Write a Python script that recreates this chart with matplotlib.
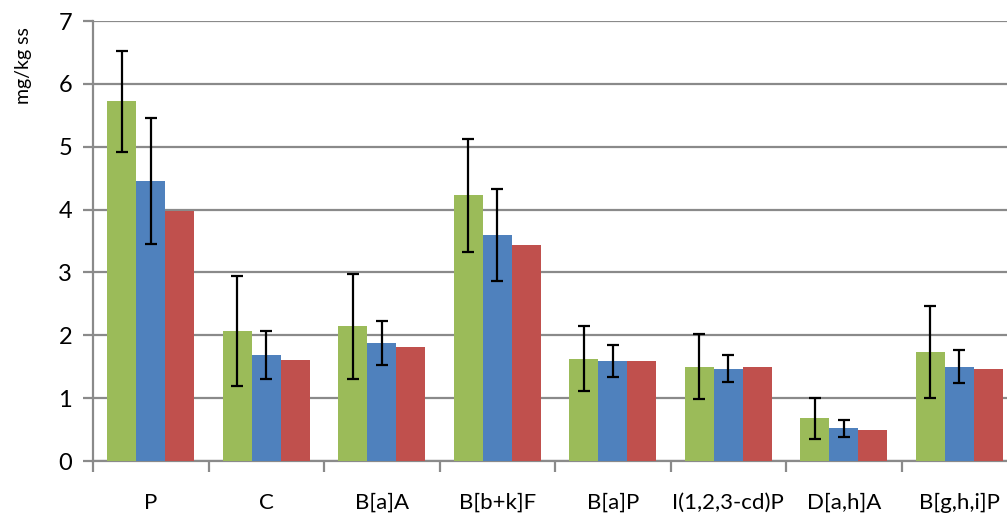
import matplotlib
matplotlib.use("Agg")
import matplotlib.pyplot as plt
import numpy as np

categories = ["P", "C", "B[a]A", "B[b+k]F", "B[a]P", "I(1,2,3-cd)P", "D[a,h]A", "B[g,h,i]P"]
green_vals = [5.72, 2.07, 2.14, 4.23, 1.63, 1.50, 0.68, 1.73]
green_err = [0.81, 0.87, 0.84, 0.90, 0.51, 0.52, 0.33, 0.73]
blue_vals = [4.45, 1.69, 1.88, 3.59, 1.59, 1.47, 0.52, 1.50]
blue_err = [1.00, 0.38, 0.35, 0.73, 0.26, 0.22, 0.14, 0.26]
red_vals = [3.98, 1.60, 1.82, 3.43, 1.59, 1.50, 0.49, 1.47]
yticks = [0, 1, 2, 3, 4, 5, 6, 7]

plt.rcParams['font.family'] = ['Lato', 'DejaVu Sans']

W, H = 1007, 515
fig = plt.figure(figsize=(W / 100, H / 100), dpi=100)
ax = fig.add_axes([93 / W, (H - 461) / H, 924 / W, 440 / H])

x = np.arange(len(categories))
bw = 0.25
grid_c = '#8a8a8a'
ekw = dict(ecolor='black', elinewidth=1.6, capsize=4.5, capthick=1.6)
ax.bar(x - bw, green_vals, bw, color='#9BBB59', yerr=green_err, error_kw=ekw, zorder=3)
ax.bar(x, blue_vals, bw, color='#4F81BD', yerr=blue_err, error_kw=ekw, zorder=3)
ax.bar(x + bw, red_vals, bw, color='#C0504D', zorder=3)

ax.set_xlim(-0.5, len(categories) - 0.5)
ax.set_ylim(0, 7)
ax.set_yticks(yticks)
ax.yaxis.grid(True, color=grid_c, linewidth=1.6, zorder=0)
ax.set_axisbelow(True)

ax.set_xticks(np.arange(len(categories) + 1) - 0.5)
ax.set_xticklabels([])
ax.set_xticks(x, minor=True)
ax.set_xticklabels(categories, minor=True, fontsize=16)
ax.tick_params(axis='x', which='minor', length=0, pad=23)
ax.tick_params(axis='x', which='major', length=8, width=1.6, color=grid_c)
ax.tick_params(axis='y', length=7, width=1.6, color=grid_c, labelsize=17, pad=8)

for s in ['top', 'right']:
    ax.spines[s].set_visible(False)
for s in ['left', 'bottom']:
    ax.spines[s].set_color(grid_c)
    ax.spines[s].set_linewidth(1.6)

fig.text(23 / W, 1 - 66 / H, "mg/kg ss", rotation=90, ha='center', va='center', fontsize=14)

fig.savefig("out.png", dpi=100)
